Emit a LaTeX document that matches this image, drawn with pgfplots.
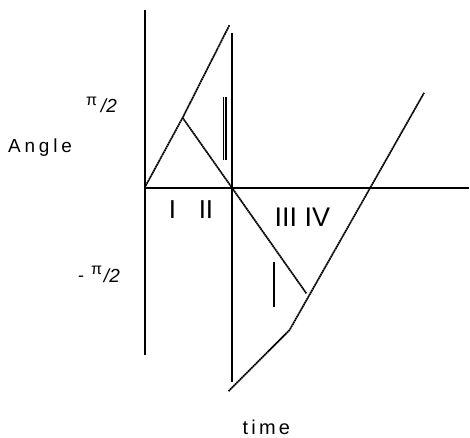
\documentclass[border=0pt]{standalone}
\usepackage{fontspec}
\setmainfont{Liberation Sans}
\newfontfamily\spaced[LetterSpace=20]{Liberation Sans}
\newfontfamily\spacedb[LetterSpace=16]{Liberation Sans}
\usepackage{pgfplots}
\pgfplotsset{compat=1.18}
\begin{document}
\begin{tikzpicture}
\begin{axis}[scale only axis, width=470pt, height=438pt,
  xmin=0, xmax=470, ymin=0, ymax=438, hide axis, clip=false]
\addplot[draw=none] coordinates {(0,0) (470,438)};
% axes
\addplot[black, line width=2pt] coordinates {(145,428) (145,82)};
\addplot[black, line width=2pt] coordinates {(145,249.5) (470,249.5)};
\addplot[black, line width=2pt] coordinates {(232,405) (232,55)};
% diagonal lines
\addplot[black, line width=1.7pt, dash pattern=on 1.8pt off 0.5pt] coordinates {(145,250) (183,320) (230,413)};
\addplot[black, line width=1.7pt, dash pattern=on 1.8pt off 0.5pt] coordinates {(183,320) (307,144)};
\addplot[black, line width=1.7pt, dash pattern=on 1.8pt off 0.5pt] coordinates {(229,46) (290,107) (425,345)};
% short bars
\addplot[black, line width=1.1pt] coordinates {(224,341) (224,278)};
\addplot[black, line width=1.1pt] coordinates {(226.5,341) (226.5,278)};
\addplot[black, line width=2pt] coordinates {(275,175) (275,130)};
% labels
\node[anchor=base west, inner sep=0pt, font=\fontsize{19}{21}\spaced] at (axis cs:8,285) {Angle};
\node[anchor=base west, inner sep=0pt, font=\fontsize{20}{22}\spacedb] at (axis cs:243,3) {time};
\node[anchor=base west, inner sep=0pt, font=\fontsize{16}{18}\selectfont] at (axis cs:86,332) {π};
\node[anchor=base west, inner sep=0pt, font=\fontsize{19}{21}\selectfont\itshape] at (axis cs:101,325) {/2};
\node[anchor=base west, inner sep=0pt, font=\fontsize{18}{20}\selectfont] at (axis cs:78,156) {-};
\node[anchor=base west, inner sep=0pt, font=\fontsize{16}{18}\selectfont] at (axis cs:91,163) {π};
\node[anchor=base west, inner sep=0pt, font=\fontsize{19}{21}\selectfont\itshape] at (axis cs:104,155) {/2};
\node[anchor=base west, inner sep=0pt, font=\fontsize{26}{28}\selectfont] at (axis cs:169,219) {I};
\node[anchor=base west, inner sep=0pt, font=\fontsize{26}{28}\selectfont] at (axis cs:199,219) {II};
\node[anchor=base west, inner sep=0pt, font=\fontsize{27}{29}\selectfont] at (axis cs:275,211) {III};
\node[anchor=base west, inner sep=0pt, font=\fontsize{27}{29}\selectfont] at (axis cs:305,211) {IV};
\end{axis}
\end{tikzpicture}
\end{document}
